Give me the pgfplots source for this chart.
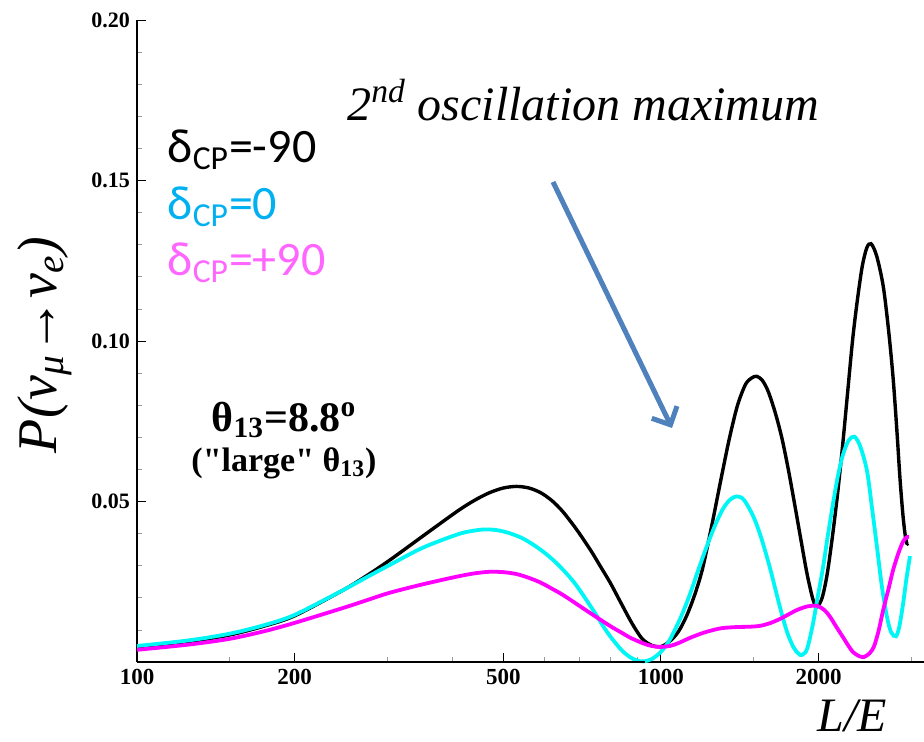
\documentclass[border=0pt]{standalone}
\usepackage{fontspec}
\setmainfont{Liberation Serif}
\newfontfamily\calib{Carlito}
\usepackage{pgfplots}
\pgfplotsset{compat=1.18}
\usetikzlibrary{arrows.meta}
\definecolor{lblue}{HTML}{00B0F0}
\definecolor{lpink}{HTML}{FF66FF}
\definecolor{arrowblue}{HTML}{4F81BD}
\definecolor{curvecyan}{RGB}{0,245,245}
\definecolor{curvemag}{RGB}{255,0,255}
\begin{document}
\begin{tikzpicture}
\begin{axis}[
  scale only axis,
  width=393.5pt, height=321pt,
  xmode=log, log basis x=10,
  xmin=100, xmax=3177, ymin=0, ymax=0.20,
  axis lines=left,
  axis line style={-, line width=1pt},
  tick align=inside,
  major tick length=4.5pt, minor tick length=2.5pt,
  tick style={black, line width=0.5pt},
  minor tick style={gray!80, line width=0.4pt},
  xtick={100,200,500,1000,2000},
  xticklabels={100,200,500,1000,2000},
  minor xtick={150,300,400,600,700,800,900,1500,3000},
  ytick={0.05,0.10,0.15,0.20},
  yticklabels={0.05,0.10,0.15,0.20},
  minor ytick={0.01,0.02,0.03,0.04,0.06,0.07,0.08,0.09,0.11,0.12,0.13,0.14,0.16,0.17,0.18,0.19},
  /pgf/number format/assume math mode=true,
  xticklabel style={font=\fontsize{11.5}{12}\selectfont\bfseries},
  yticklabel style={font=\fontsize{11}{12}\selectfont\bfseries},
  clip=false,
]
\addplot[black, line width=1.7pt, smooth, tension=0.5] coordinates {
(100,.0046) (125,.0063) (150,.0084) (175,.0112) (200,.0144) (248,.0225) (275,.0270)
(304,.0318) (351,.0392) (408,.0469) (440,.0503) (470,.0527) (500,.0542) (530,.0547)
(560,.0542) (590,.0527) (620,.0502) (650,.0468) (690,.0413) (733,.0350) (765,.0300)
(800,.0247) (835,.0190) (873,.0131) (900,.0095) (925,.0069) (960,.0052) (1000,.0048)
(1040,.0065) (1080,.0095) (1120,.0145) (1160,.0210) (1200,.0290) (1250,.0425)
(1300,.0565) (1350,.0695) (1400,.0800) (1450,.0865) (1490,.0885) (1523,.0890)
(1560,.0878) (1600,.0845) (1650,.0780) (1700,.0700) (1750,.0600) (1800,.0490)
(1850,.0380) (1900,.0275) (1950,.0195) (1985,.0172) (2030,.0200) (2074,.0270)
(2120,.0380) (2168,.0510) (2220,.0670) (2265,.0820) (2320,.1000) (2367,.1120)
(2420,.1230) (2470,.1290) (2517,.1303) (2580,.1265) (2656,.1170) (2720,.1030)
(2775,.0880) (2820,.0720) (2859,.0570) (2895,.0460) (2922,.0400) (2945,.0370)
(2960,.0370)
};
\addplot[curvecyan, line width=1.9pt, smooth, tension=0.5] coordinates {
(100,.0050) (125,.0067) (150,.0088) (175,.0115) (200,.0147) (248,.0225) (275,.0265)
(304,.0303) (351,.0356) (408,.0397) (435,.0408) (460,.0413) (485,.0411) (510,.0403)
(540,.0388) (570,.0366) (600,.0340) (630,.0310) (660,.0276) (690,.0238) (740,.0165)
(770,.0120) (800,.0080) (840,.0038) (873,.0015) (900,.0005) (925,.0002) (960,.0009)
(1000,.0032) (1040,.0070) (1090,.0138) (1135,.0210) (1180,.0290) (1224,.0362)
(1270,.0428) (1313,.0477) (1355,.0506) (1396,.0516) (1440,.0505) (1499,.0455)
(1550,.0392) (1615,.0292) (1686,.0172) (1740,.0094) (1790,.0046) (1830,.0026)
(1858,.0022) (1900,.0040) (1948,.0115) (1990,.0200) (2036,.0290) (2080,.0390)
(2128,.0490) (2175,.0578) (2224,.0645) (2280,.0690) (2340,.0702) (2400,.0672)
(2473,.0595) (2530,.0475) (2585,.0355) (2640,.0235) (2700,.0140) (2750,.0092)
(2808,.0080) (2850,.0110) (2897,.0180) (2940,.0258) (2987,.0330)
};
\addplot[curvemag, line width=1.9pt, smooth, tension=0.5] coordinates {
(100,.0038) (125,.0054) (150,.0072) (175,.0096) (200,.0122) (248,.0169) (275,.0193)
(304,.0216) (351,.0242) (408,.0266) (440,.0276) (470,.0281) (500,.0280) (530,.0274)
(560,.0262) (590,.0247) (620,.0228) (650,.0209) (690,.0181) (740,.0148) (800,.0112)
(840,.0092) (873,.0076) (925,.0058) (960,.0050) (995,.0047) (1040,.0050) (1080,.0059)
(1135,.0075) (1200,.0090) (1260,.0100) (1313,.0106) (1400,.0109) (1480,.0110)
(1550,.0113) (1620,.0122) (1686,.0134) (1750,.0148) (1818,.0162) (1900,.0173)
(1985,.0175) (2050,.0162) (2100,.0142) (2160,.0110) (2224,.0078) (2280,.0050)
(2325,.0031) (2390,.0018) (2443,.0016) (2500,.0027) (2548,.0047) (2600,.0095)
(2656,.0163) (2720,.0230) (2775,.0288) (2840,.0340) (2897,.0375) (2940,.0388)
(2975,.0390)
};
% x axis line extends a little left of the y axis
\draw[line width=1pt] (rel axis cs:0,0) -- ++(-8pt,0);
% annotations
\node[font=\fontsize{24}{26}\selectfont\itshape] at (rel axis cs:0.567,0.875) {2\textsuperscript{nd} oscillation maximum};
\node[anchor=west, font=\calib\fontsize{24}{26}\selectfont, text=black] at (rel axis cs:0.030,0.7975) {δ\textsubscript{CP}=-90};
\node[anchor=west, font=\calib\fontsize{24}{26}\selectfont, text=lblue] at (rel axis cs:0.030,0.709) {δ\textsubscript{CP}=0};
\node[anchor=west, font=\calib\fontsize{24}{26}\selectfont, text=lpink] at (rel axis cs:0.030,0.6215) {δ\textsubscript{CP}=+90};
\node[font=\fontsize{21}{23}\selectfont\bfseries] at (rel axis cs:0.1868,0.377) {θ\textsubscript{13}=8.8\textsuperscript{o}};
\node[font=\fontsize{17}{19}\selectfont\bfseries] at (rel axis cs:0.1868,0.31) {(\textquotedbl large\textquotedbl{} θ\textsubscript{13})};
\draw[arrowblue, line width=2.5pt, -{Straight Barb[length=7pt,width=14pt,line width=2.5pt]}] (rel axis cs:0.5286,0.7477) -- (rel axis cs:0.6798,0.3645);
\node[rotate=90, font=\fontsize{28}{30}\selectfont\itshape] at (axis description cs:-0.117,0.494) {P(ν\textsubscript{μ}→ν\textsubscript{e})};
\node[font=\fontsize{24}{26}\selectfont\itshape] at (axis description cs:0.9085,-0.084) {L/E};
\end{axis}
\pgfresetboundingbox
\path[use as bounding box] (-68.5pt,-39.5pt) rectangle (393.5pt,331pt);
\end{tikzpicture}
\end{document}
